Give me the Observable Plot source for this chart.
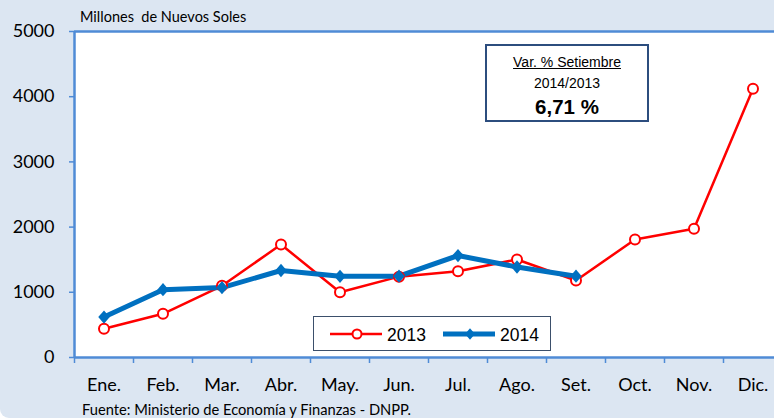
<!DOCTYPE html>
<html>
<head>
<meta charset="utf-8">
<script src="https://cdn.jsdelivr.net/npm/d3@7"></script>
<script src="https://cdn.jsdelivr.net/npm/@observablehq/plot@0.6"></script>
<style>
  html, body { margin: 0; padding: 0; background: #ffffff; }
  #wrap { position: relative; width: 774px; height: 418px; background: #dce6f2; border-radius: 0 0 0 9px; overflow: hidden; font-family: Lato, "Noto Sans", sans-serif; }
  #chart { position: absolute; left: 0; top: 0; }
  .title { position: absolute; left: 80px; top: 8px; font-size: 14.5px; color: #000; white-space: pre; }
  .foot { position: absolute; left: 82px; top: 400px; font-size: 14.7px; color: #000; white-space: pre; }
  .note { position: absolute; left: 485px; top: 44px; width: 160px; height: 74px; border: 2px solid #2c4d7e; background: #fff; font-family: "Liberation Sans", Arial, sans-serif; text-align: center; color: #000; }
  .note .l1 { position: absolute; left: 0; right: 0; top: 8px; font-size: 14px; text-decoration: underline; }
  .note .l2 { position: absolute; left: 0; right: 0; top: 29px; font-size: 14px; }
  .note .l3 { position: absolute; left: 0; right: 0; top: 49px; font-size: 20.5px; font-weight: bold; }
  .legend { position: absolute; left: 313px; top: 316px; width: 236px; height: 33px; border: 1px solid #3b4f6b; background: #fff; font-family: "Liberation Sans", Arial, sans-serif; }
  .legend svg { position: absolute; left: 0; top: 0; }
</style>
</head>
<body>
<div id="wrap">
  <div id="chart"></div>
  <div class="title">Millones  de Nuevos Soles</div>
  <div class="foot">Fuente: Ministerio de Economía y Finanzas - DNPP.</div>
  <div class="note">
    <div class="l1">Var. % Setiembre</div>
    <div class="l2">2014/2013</div>
    <div class="l3">6,71 %</div>
  </div>
  <div class="legend" id="legend"></div>
</div>
<script>
const months = ["Ene.", "Feb.", "Mar.", "Abr.", "May.", "Jun.", "Jul.", "Ago.", "Set.", "Oct.", "Nov.", "Dic."];
const values2013 = [440, 670, 1100, 1733, 1002, 1240, 1324, 1503, 1181, 1810, 1974, 4121];
const values2014 = [620, 1040, 1072, 1334, 1245, 1247, 1564, 1388, 1247];
const yTicks = [0, 1000, 2000, 3000, 4000, 5000];
const seriesNames = ["2013", "2014"];

const red = "#ff0000";
const blue = "#0070c0";
const axisBlue = "#4f8bd6";

// squat diamond symbol (Excel style)
const excelDiamond = {
  draw(ctx, size) {
    const r = Math.sqrt(size / Math.PI);
    const h = r * 0.95, w = r * 0.82;
    ctx.moveTo(0, -h); ctx.lineTo(w, 0); ctx.lineTo(0, h); ctx.lineTo(-w, 0); ctx.closePath();
  }
};

const d2013 = values2013.map((v, i) => ({m: i + 1, v}));
const d2014 = values2014.map((v, i) => ({m: i + 1, v}));
const bounds = months.map((_, i) => i + 0.5).concat([months.length + 0.5]);
const centers = months.map((_, i) => i + 1);

const chart = Plot.plot({
  width: 774,
  height: 418,
  marginLeft: 74,
  marginRight: 0,
  marginTop: 31,
  marginBottom: 61,
  style: { background: "transparent", fontFamily: "Lato, 'Noto Sans', sans-serif", overflow: "visible" },
  x: { domain: [0.5, months.length + 0.5], range: [74, 782] },
  y: { domain: [0, 5000] },
  marks: [
    Plot.frame({ fill: "white", stroke: null }),
    Plot.ruleY([0, 5000], { stroke: axisBlue, strokeWidth: 2.5 }),
    Plot.ruleX([0.5], { stroke: axisBlue, strokeWidth: 2.5 }),
    Plot.axisY({ ticks: yTicks, tickSize: 5, tickPadding: 15, stroke: axisBlue, strokeWidth: 1.5, fill: "#000", fontSize: 18, label: null, tickFormat: d => String(d) }),
    Plot.axisX({ ticks: bounds, tickSize: 6, tickPadding: 0, stroke: axisBlue, strokeWidth: 1.5, tickFormat: () => "", label: null }),
    Plot.axisX({ ticks: centers, tickSize: 0, tickPadding: 21, fill: "#000", fontSize: 18, tickFormat: d => months[d - 1], label: null }),
    Plot.line(d2013, { x: "m", y: "v", stroke: red, strokeWidth: 2.5 }),
    Plot.line(d2014, { x: "m", y: "v", stroke: blue, strokeWidth: 5 }),
    Plot.dot(d2013, { x: "m", y: "v", r: 5, fill: "white", stroke: red, strokeWidth: 2 }),
    Plot.dot(d2014, { x: "m", y: "v", r: 7, symbol: excelDiamond, fill: blue, stroke: null })
  ]
});
document.getElementById("chart").appendChild(chart);

// legend
const lg = d3.select("#legend").append("svg").attr("width", 236).attr("height", 33);
const items = [
  { name: seriesNames[0], color: red, w: 2.5, x0: 16 },
  { name: seriesNames[1], color: blue, w: 5, x0: 129 }
];
items.forEach((it, k) => {
  const g = lg.append("g");
  g.append("line").attr("x1", it.x0).attr("x2", it.x0 + 52).attr("y1", 17).attr("y2", 17)
    .attr("stroke", it.color).attr("stroke-width", it.w);
  if (k === 0) {
    g.append("circle").attr("cx", it.x0 + 27).attr("cy", 17).attr("r", 4.5)
      .attr("fill", "white").attr("stroke", it.color).attr("stroke-width", 2);
  } else {
    g.append("path").attr("transform", `translate(${it.x0 + 27},17)`)
      .attr("d", d3.symbol(excelDiamond, Math.PI * 36)()).attr("fill", it.color);
  }
  g.append("text").attr("x", it.x0 + 57).attr("y", 23.5).attr("font-size", 17.5)
    .attr("font-family", "'Liberation Sans', Arial, sans-serif").attr("fill", "#000").text(it.name);
});
</script>
</body>
</html>
